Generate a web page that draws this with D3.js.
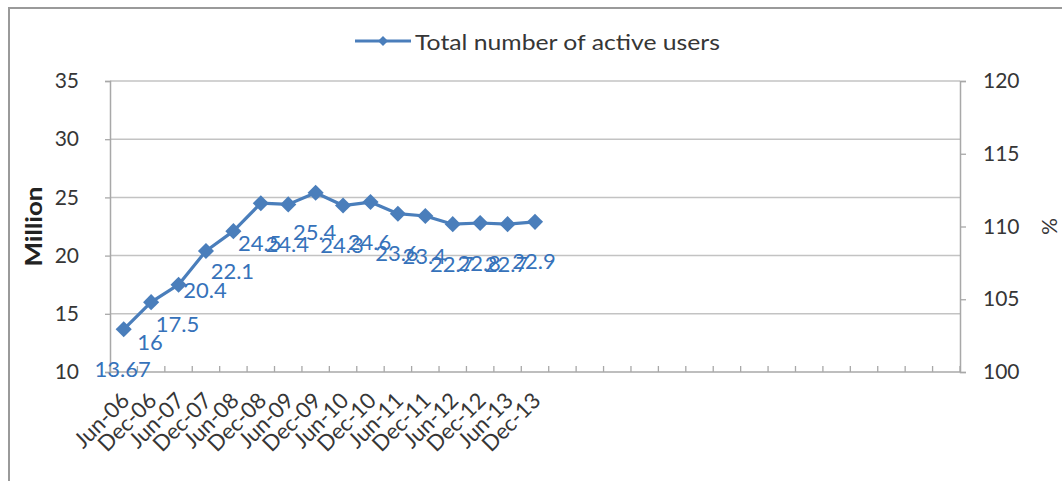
<!DOCTYPE html>
<html>
<head>
<meta charset="utf-8">
<script src="https://cdn.jsdelivr.net/npm/d3@7"></script>
<style>
  html, body { margin: 0; padding: 0; background: #fff; }
  svg { display: block; }
  text { font-family: Lato, "Open Sans", "Liberation Sans", sans-serif; }
</style>
</head>
<body>
<svg id="chart" width="1062" height="481"></svg>
<script>
// Half-yearly active user counts (million)
const categories = ["Jun-06", "Dec-06", "Jun-07", "Dec-07", "Jun-08", "Dec-08", "Jun-09", "Dec-09",
                    "Jun-10", "Dec-10", "Jun-11", "Dec-11", "Jun-12", "Dec-12", "Jun-13", "Dec-13"];
const activeUsers = [13.67, 16, 17.5, 20.4, 22.1, 24.5, 24.4, 25.4,
                     24.3, 24.6, 23.6, 23.4, 22.7, 22.8, 22.7, 22.9];
const leftTicks = [10, 15, 20, 25, 30, 35];
const rightTicks = [100, 105, 110, 115, 120];
const seriesName = "Total number of active users";
const axisSlots = 31; // category slots on the x axis (the rest are empty)

const svg = d3.select("#chart");
const W = 1062, H = 481;
const plot = { left: 110, right: 960, top: 81, bottom: 372 };

const blue = "#4A7EBB";
const labelBlue = "#3672BA";
const gridGray = "#C3C3C3";
const axisGray = "#A8A8A8";
const textGray = "#363636";

// Chart area frame (left and top edges visible)
svg.append("path")
  .attr("d", `M9,${H} V8 H${W}`)
  .attr("fill", "none").attr("stroke", "#9A9A9A").attr("stroke-width", 2);

const x = d3.scaleBand()
  .domain(d3.range(axisSlots))
  .range([plot.left, plot.right])
  .padding(0);
const y = d3.scaleLinear().domain([10, 35]).range([plot.bottom, plot.top]);
const y2 = d3.scaleLinear().domain([100, 120]).range([plot.bottom, plot.top]);

// Horizontal gridlines
svg.append("g")
  .selectAll("line")
  .data(leftTicks.filter(v => v > 10))
  .join("line")
  .attr("x1", plot.left).attr("x2", plot.right)
  .attr("y1", d => y(d)).attr("y2", d => y(d))
  .attr("stroke", gridGray).attr("stroke-width", 1.5);

// Left axis
const gLeft = svg.append("g")
  .attr("transform", `translate(${plot.left},0)`)
  .call(d3.axisLeft(y).tickValues(leftTicks).tickSize(5).tickPadding(26));
gLeft.select(".domain").attr("stroke", axisGray).attr("stroke-width", 1.5);
gLeft.selectAll(".tick line").attr("stroke", axisGray).attr("stroke-width", 1.3);
gLeft.selectAll(".tick text")
  .attr("font-size", 21).attr("fill", textGray)
  .style("font-family", "Lato, sans-serif");

// Right axis
const gRight = svg.append("g")
  .attr("transform", `translate(${plot.right},0)`)
  .call(d3.axisRight(y2).tickValues(rightTicks).tickSize(6).tickPadding(17));
gRight.select(".domain").attr("stroke", axisGray).attr("stroke-width", 1.5);
gRight.selectAll(".tick line").attr("stroke", axisGray).attr("stroke-width", 1.3);
gRight.selectAll(".tick text")
  .attr("font-size", 21).attr("fill", textGray)
  .style("font-family", "Lato, sans-serif");

// Bottom axis: ticks between categories, pointing into the plot
const boundaries = d3.range(axisSlots + 1).map(i => plot.left + i * x.bandwidth());
const gBottom = svg.append("g");
gBottom.append("line")
  .attr("x1", plot.left).attr("x2", plot.right)
  .attr("y1", plot.bottom).attr("y2", plot.bottom)
  .attr("stroke", axisGray).attr("stroke-width", 1.5);
gBottom.selectAll("line.tick")
  .data(boundaries)
  .join("line")
  .attr("class", "tick")
  .attr("x1", d => d).attr("x2", d => d)
  .attr("y1", plot.bottom).attr("y2", plot.bottom - 6)
  .attr("stroke", axisGray).attr("stroke-width", 1.3);

// Category labels, rotated
gBottom.selectAll("text")
  .data(categories)
  .join("text")
  .attr("transform", (d, i) => `translate(${x(i) + x.bandwidth() / 2 + 7},${plot.bottom + 30}) rotate(-45)`)
  .attr("text-anchor", "end")
  .attr("font-size", 22)
  .attr("fill", textGray)
  .text(d => d);

// Axis titles
svg.append("text")
  .attr("transform", `translate(42,${(plot.top + plot.bottom) / 2}) rotate(-90)`)
  .attr("text-anchor", "middle")
  .attr("font-size", 23).attr("font-weight", "bold")
  .attr("fill", "#222")
  .attr("textLength", 80)
  .attr("lengthAdjust", "spacingAndGlyphs")
  .text("Million");

svg.append("text")
  .attr("transform", `translate(1042,${(plot.top + plot.bottom) / 2}) rotate(90)`)
  .attr("text-anchor", "middle")
  .attr("font-size", 21)
  .attr("fill", textGray)
  .text("%");

// Series line
const pts = activeUsers.map((v, i) => ({ v, i }));
const line = d3.line()
  .x(d => x(d.i) + x.bandwidth() / 2)
  .y(d => y(d.v));
svg.append("path")
  .datum(pts)
  .attr("d", line)
  .attr("fill", "none")
  .attr("stroke", blue)
  .attr("stroke-width", 3.2)
  .attr("stroke-linejoin", "round");

// Diamond markers
const diamond = d3.symbol(d3.symbolSquare, 130);
svg.append("g")
  .selectAll("path")
  .data(pts)
  .join("path")
  .attr("d", diamond)
  .attr("transform", d => `translate(${x(d.i) + x.bandwidth() / 2},${y(d.v)}) rotate(45)`)
  .attr("fill", blue);

// Value labels below each point
svg.append("g")
  .selectAll("text")
  .data(pts)
  .join("text")
  .attr("x", d => x(d.i) + x.bandwidth() / 2 - 1)
  .attr("y", d => y(d.v) + 39)
  .attr("text-anchor", "middle")
  .attr("dominant-baseline", "central")
  .attr("font-size", 22)
  .attr("fill", labelBlue)
  .text(d => d.v);

// Legend
const lg = svg.append("g").attr("transform", "translate(355,41)");
lg.append("line")
  .attr("x1", 0).attr("x2", 56).attr("y1", 0).attr("y2", 0)
  .attr("stroke", blue).attr("stroke-width", 3.2);
lg.append("path")
  .attr("d", d3.symbol(d3.symbolSquare, 50))
  .attr("transform", "translate(28,0) rotate(45)")
  .attr("fill", blue);
lg.append("text")
  .attr("x", 60).attr("y", 0)
  .attr("dominant-baseline", "central")
  .attr("font-size", 21)
  .attr("fill", textGray)
  .attr("textLength", 305)
  .attr("lengthAdjust", "spacingAndGlyphs")
  .text(seriesName);
</script>
</body>
</html>
